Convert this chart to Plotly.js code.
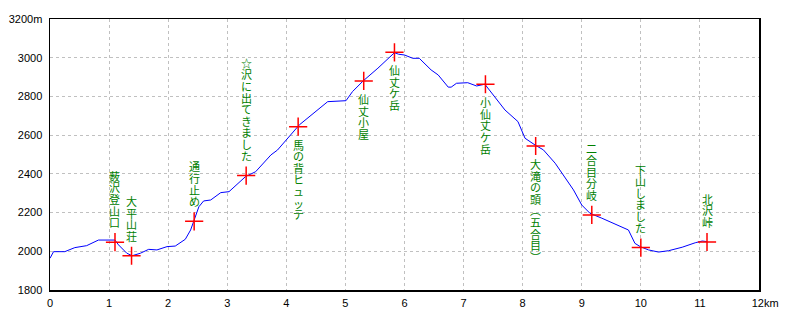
<!DOCTYPE html>
<html>
<head>
<meta charset="utf-8">
<script src="https://cdn.plot.ly/plotly-3.0.1.min.js"></script>
<style>html,body{margin:0;padding:0;background:#fff;}#chart{width:800px;height:320px;}</style>
</head>
<body>
<div id="chart"></div>
<script>
// Elevation profile (distance km, elevation m)
const dist = [0, 0.06, 0.25, 0.30, 0.42, 0.62, 0.71, 0.82, 1.10, 1.16, 1.30, 1.39, 1.53, 1.67, 1.81, 1.98, 2.12, 2.29, 2.38, 2.43, 2.52, 2.60, 2.72, 2.89, 3.03, 3.31, 3.48, 3.74, 3.85, 4.22, 4.44, 4.70, 5.01, 5.12, 5.30, 5.55, 5.83, 5.90, 6.00, 6.14, 6.25, 6.45, 6.57, 6.74, 6.79, 6.88, 7.07, 7.22, 7.36, 7.53, 7.70, 7.92, 8.04, 8.21, 8.35, 8.55, 8.72, 8.86, 9.00, 9.14, 9.34, 9.54, 9.79, 9.90, 9.99, 10.13, 10.30, 10.47, 10.70, 10.92, 11.04, 11.12];
const elev = [1964, 1998, 1998, 2005, 2019, 2029, 2041, 2058, 2058, 2033, 1990, 1977, 1990, 2010, 2007, 2024, 2027, 2062, 2110, 2153, 2230, 2260, 2265, 2303, 2308, 2386, 2411, 2498, 2523, 2653, 2710, 2773, 2778, 2825, 2880, 2946, 3026, 3018, 3014, 2997, 2997, 2937, 2911, 2848, 2848, 2868, 2871, 2854, 2863, 2799, 2730, 2670, 2584, 2549, 2524, 2455, 2377, 2317, 2239, 2196, 2171, 2145, 2110, 2041, 2024, 2007, 1996, 2003, 2021, 2044, 2053, 2050];

// Waypoints
const wpDist = [1.10, 1.38, 2.44, 3.32, 4.20, 5.31, 5.83, 7.37, 8.22, 9.17, 10.00, 11.12];
const wpElev = [2047, 1977, 2155, 2391, 2644, 2880, 3028, 2863, 2544, 2188, 2019, 2048];
const wpNames = ['薮沢登山口', '大平山荘', '通行止め', '☆沢に出てきました', '馬の背ヒュッテ', '仙丈小屋', '仙丈ケ岳', '小仙丈ケ岳', '大滝の頭︵五合目︶', '二合目分岐', '下山しました', '北沢峠'];
const wpSide = ['above', 'above', 'above', 'above', 'below', 'below', 'below', 'below', 'below', 'above', 'above', 'above'];

// Axis ticks
const xTickVals = [0, 1, 2, 3, 4, 5, 6, 7, 8, 9, 10, 11, 12];
const xTickText = ['0', '1', '2', '3', '4', '5', '6', '7', '8', '9', '10', '11', '\u00a0\u00a0\u00a0\u00a012km'];
const yTickVals = [1800, 2000, 2200, 2400, 2600, 2800, 3000, 3200];
const yTickText = ['1800', '2000', '2200', '2400', '2600', '2800', '3000', '3200m'];

// Vertical (upright) labels, one character stacked under another
const step = 11.6;
const annotations = [];
wpNames.forEach((name, k) => {
  const chars = Array.from(name);
  const n = chars.length;
  chars.forEach((ch, i) => {
    const ys = wpSide[k] === 'above' ? 20 + (n - 1 - i) * step : -(18 + i * step);
    annotations.push({
      x: wpDist[k], y: wpElev[k], xref: 'x', yref: 'y',
      text: ch, showarrow: false, yshift: ys, borderpad: 0,
      xanchor: 'center', yanchor: 'middle',
      font: {family: '"Noto Sans CJK JP", sans-serif', size: 11, color: '#008000'}
    });
  });
});

const traces = [
  {x: dist, y: elev, type: 'scatter', mode: 'lines',
   line: {color: '#0000ff', width: 1}, hoverinfo: 'skip'},
  {x: wpDist, y: wpElev, type: 'scatter', mode: 'markers',
   marker: {symbol: 'cross-thin', size: 13, line: {color: '#ff0000', width: 1.5}}, hoverinfo: 'skip'}
];

const gridStyle = {showgrid: true, gridcolor: '#c0c0c0', gridwidth: 1, griddash: '3px,3px',
  zeroline: false, showline: true, mirror: true, linecolor: '#000', linewidth: 1.5,
  ticks: '', tickfont: {family: '"Liberation Sans", Arial, sans-serif', size: 11, color: '#000'}};

const layout = {
  width: 800, height: 320,
  margin: {l: 50, r: 41, t: 19, b: 30},
  paper_bgcolor: '#fff', plot_bgcolor: '#fff',
  showlegend: false,
  xaxis: Object.assign({}, gridStyle, {range: [0, 12], tickmode: 'array', tickvals: xTickVals, ticktext: xTickText, ticklabelstandoff: 2}),
  yaxis: Object.assign({}, gridStyle, {range: [1800, 3200], tickmode: 'array', tickvals: yTickVals, ticktext: yTickText, ticklabelstandoff: 4}),
  annotations: annotations
};

Plotly.newPlot('chart', traces, layout, {staticPlot: true, displayModeBar: false});
</script>
</body>
</html>
